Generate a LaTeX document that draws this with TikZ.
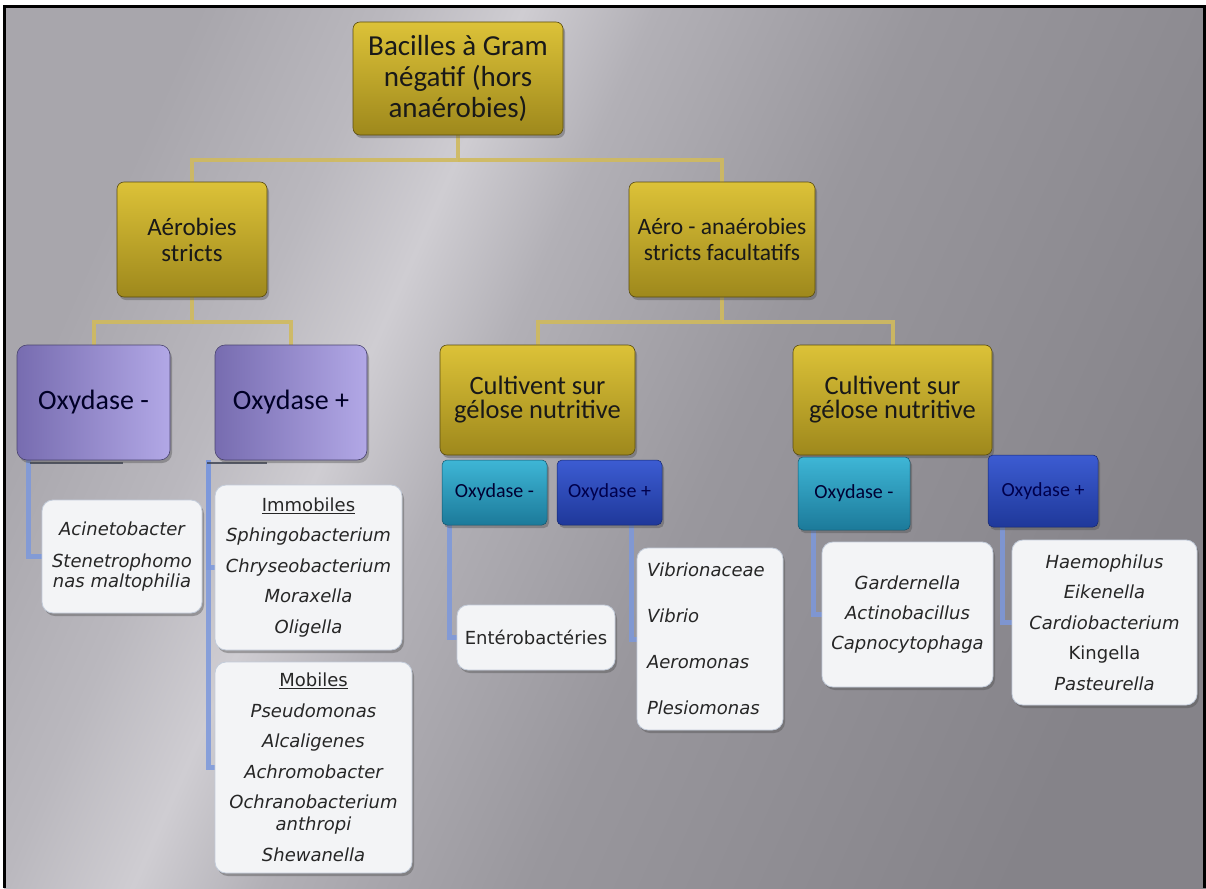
\documentclass[tikz,border=0pt]{standalone}
\usepackage{fontspec}
\setmainfont{Carlito}
\newfontfamily\listfont{DejaVu Sans}
\usetikzlibrary{shadows}
\definecolor{bgA}{HTML}{A8A6AC}
\definecolor{bgB}{HTML}{BAB8BE}
\definecolor{bgC}{HTML}{CFCDD2}
\definecolor{bgD}{HTML}{B2B0B6}
\definecolor{bgE}{HTML}{99979D}
\definecolor{bgF}{HTML}{858389}
\definecolor{goldT}{HTML}{DCC238}
\definecolor{goldB}{HTML}{9E881C}
\definecolor{goldD}{HTML}{5A4C10}
\definecolor{purL}{HTML}{776CB0}
\definecolor{purR}{HTML}{B2A8E6}
\definecolor{purD}{HTML}{4A4470}
\definecolor{cyaT}{HTML}{3EB6D6}
\definecolor{cyaB}{HTML}{1C7A9A}
\definecolor{bluT}{HTML}{3C5CD2}
\definecolor{bluB}{HTML}{1F389A}
\definecolor{wfill}{HTML}{F3F4F6}
\definecolor{wdraw}{HTML}{C3CCDA}
\definecolor{goldline}{HTML}{D0BA5E}
\definecolor{blueline}{HTML}{7C98DC}
\definecolor{stubc}{HTML}{3A4050}
\pgfdeclarehorizontalshading{bgshade}{100bp}{color(0bp)=(bgA); color(25bp)=(bgA); color(33bp)=(bgB); color(38.5bp)=(bgC); color(44bp)=(bgD); color(55bp)=(bgE); color(75bp)=(bgF); color(100bp)=(bgF)}
\pgfdeclarelayer{bg}
\pgfdeclarelayer{background}
\pgfsetlayers{bg,background,main}
\tikzset{
  shadowed/.style={drop shadow={shadow xshift=2pt, shadow yshift=-3pt, opacity=0.4, fill=black!70}},
  goldbox/.style={shadowed, draw=goldD, line width=0.6pt, rounded corners=7pt, top color=goldT, bottom color=goldB, align=center, inner sep=3pt, outer sep=0pt, text=black!90},
  purbox/.style={shadowed, draw=purD, line width=0.6pt, rounded corners=10pt, left color=purL, right color=purR, align=center, inner sep=3pt, outer sep=0pt, text=black!85!blue, font=\fontsize{28}{30}\selectfont},
  cyabox/.style={shadowed, draw=cyaB!70!black, line width=0.5pt, rounded corners=5pt, top color=cyaT, bottom color=cyaB, align=center, inner sep=2pt, outer sep=0pt, text=black!80!blue, font=\fontsize{20}{22}\selectfont},
  blubox/.style={shadowed, draw=bluB!70!black, line width=0.5pt, rounded corners=5pt, top color=bluT, bottom color=bluB, align=center, inner sep=2pt, outer sep=0pt, text=black!70!blue, font=\fontsize{20}{22}\selectfont},
  whitebox/.style={shadowed, draw=wdraw, line width=0.8pt, fill=wfill, rounded corners=11pt, align=center, inner sep=4pt, outer sep=0pt, text=black!85},
  goldconn/.style={draw=goldline, line width=4pt, opacity=0.9},
  blueconn/.style={draw=blueline, line width=5pt, opacity=0.85},
  stub/.style={draw=stubc, line width=2pt, opacity=0.8}
}
\begin{document}
\begin{tikzpicture}[x=1pt,y=-1pt]
\useasboundingbox (0,0) rectangle (1206,888);
\begin{pgfonlayer}{bg}
  \fill[white] (0,0) rectangle (1206,888);
  \shade[shading=bgshade, shading angle=-24] (4,6) rectangle (1206,888);
  \draw[black, line width=3pt] (4.5,888) -- (4.5,6.5) -- (1204.5,6.5) -- (1204.5,888);
\end{pgfonlayer}

% level 1
\node[goldbox, minimum width=210pt, minimum height=113pt, font=\fontsize{29}{31}\selectfont] (top) at (458,78.5) {Bacilles à Gram\\négatif (hors\\anaérobies)};
% level 2
\node[goldbox, minimum width=150pt, minimum height=115pt, font=\fontsize{25}{26}\selectfont] (aer) at (192,239.5) {Aérobies\\stricts};
\node[goldbox, minimum width=186pt, minimum height=115pt, font=\fontsize{23.5}{26}\selectfont] (aeroana) at (722,239.5) {Aéro - anaérobies\\stricts facultatifs};
% level 3
\node[purbox, minimum width=153pt, minimum height=115pt] (oxm) at (93.5,402.5) {Oxydase -};
\node[purbox, minimum width=152pt, minimum height=115pt] (oxp) at (291,402.5) {Oxydase +};
\node[goldbox, minimum width=195pt, minimum height=110pt, font=\fontsize{26.5}{24}\selectfont] (cult1) at (537.5,400) {Cultivent sur\\gélose nutritive};
\node[goldbox, minimum width=199pt, minimum height=110pt, font=\fontsize{26.5}{24}\selectfont] (cult2) at (892.5,400) {Cultivent sur\\gélose nutritive};
% level 4 (oxydase)
\node[cyabox, minimum width=105pt, minimum height=65pt] (c1) at (494.5,492.5) {Oxydase -};
\node[blubox, minimum width=105pt, minimum height=65pt] (b1) at (609.5,492.5) {Oxydase +};
\node[cyabox, minimum width=112pt, minimum height=73pt] (c2) at (854,493.5) {Oxydase -};
\node[blubox, minimum width=110pt, minimum height=72pt] (b2) at (1043,491) {Oxydase +};
% white lists
\node[whitebox, minimum width=160pt, minimum height=113pt, font={\listfont\fontsize{18}{20}\selectfont\itshape}] (w1) at (122,556.5) {Acinetobacter\\[12pt]Stenetrophomo\\nas maltophilia};
\node[whitebox, minimum width=187pt, minimum height=165pt, font={\listfont\fontsize{18}{30.5}\selectfont\itshape}] (w2) at (308.5,567.5) {\upshape\underline{Immobiles}\\Sphingobacterium\\Chryseobacterium\\Moraxella\\Oligella};
\node[whitebox, minimum width=197pt, minimum height=211pt, font={\listfont\fontsize{18}{30.5}\selectfont\itshape}] (w3) at (313.5,767.5) {\upshape\underline{Mobiles}\\Pseudomonas\\Alcaligenes\\Achromobacter\\Ochranobacterium\\[-8.5pt]anthropi\\Shewanella};
\node[whitebox, minimum width=158pt, minimum height=65pt, font={\listfont\fontsize{18}{20}\selectfont}] (w4) at (536,637.5) {Entérobactéries};
\node[whitebox, minimum width=146pt, minimum height=182pt, text width=126pt, align=left, inner sep=10pt, font={\listfont\fontsize{18}{46}\selectfont\itshape}] (w5) at (710,639) {Vibrionaceae\\Vibrio\\Aeromonas\\Plesiomonas};
\node[whitebox, minimum width=171pt, minimum height=145pt, font={\listfont\fontsize{18}{30}\selectfont\itshape}] (w6) at (907.5,614.5) {Gardernella\\Actinobacillus\\Capnocytophaga};
\node[whitebox, minimum width=185pt, minimum height=165pt, font={\listfont\fontsize{18}{30.5}\selectfont\itshape}] (w7) at (1104.5,622.5) {Haemophilus\\Eikenella\\Cardiobacterium\\{\upshape Kingella}\\Pasteurella};

% helper coordinates for connector columns
\path ([xshift=-6pt]w5.west) coordinate (w5l);
\path ([xshift=-9pt]w6.west) coordinate (w6l);
\path ([xshift=-10pt]w7.west) coordinate (w7l);

\begin{pgfonlayer}{background}
  % gold hierarchy connectors
  \draw[goldconn] (top.south) -- ++(0,25) coordinate (j1) -| (aer.north);
  \draw[goldconn] (j1) -| (aeroana.north);
  \draw[goldconn] (aer.south) -- ++(0,25) coordinate (j2) -| (oxm.north);
  \draw[goldconn] (j2) -| (oxp.north);
  \draw[goldconn] (aeroana.south) -- ++(0,25) coordinate (j3) -| (cult1.north);
  \draw[goldconn] (j3) -| (cult2.north);
  % blue list connectors
  \draw[blueconn] ([xshift=11pt]oxm.south west) |- (w1.west);
  \draw[blueconn] ([xshift=-7pt]oxp.south west) |- (w2.west);
  \draw[blueconn] ([xshift=-7pt]oxp.south west) |- (w3.west);
  \draw[blueconn] ([xshift=7pt]c1.south west) |- (w4.west);
  \draw[blueconn] (w5l |- b1.south) |- (w5.west);
  \draw[blueconn] (w6l |- c2.south) |- (w6.west);
  \draw[blueconn] (w7l |- b2.south) |- (w7.west);
  % dark stubs under the purple boxes
  \draw[stub] ([xshift=13pt,yshift=-3pt]oxm.south west) -- ([xshift=106pt,yshift=-3pt]oxm.south west);
  \draw[stub] ([xshift=-8pt,yshift=-3pt]oxp.south west) -- ([xshift=52pt,yshift=-3pt]oxp.south west);
\end{pgfonlayer}
\end{tikzpicture}
\end{document}
